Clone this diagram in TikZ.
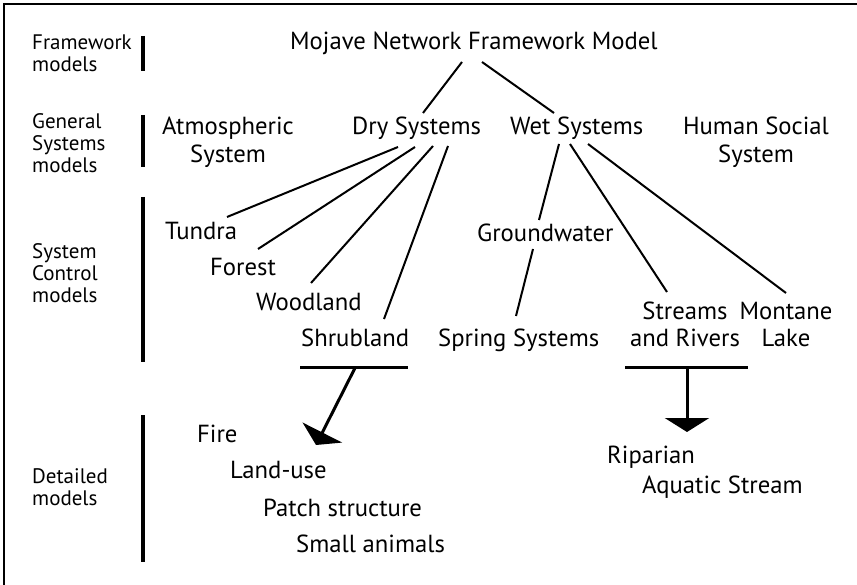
\documentclass[tikz,border=0pt]{standalone}
\usepackage{fontspec}
\setmainfont{PT Sans}
\usetikzlibrary{arrows.meta,calc}
\begin{document}
\begin{tikzpicture}[x=1pt,y=-1pt,
  lbl/.style={font=\fontsize{21}{22}\selectfont, align=left, anchor=base west, inner sep=0pt},
  item/.style={font=\fontsize{24.7}{28}\selectfont, inner sep=0pt, anchor=base west},
  multi/.style={font=\fontsize{24.7}{28}\selectfont, inner sep=0pt, align=center, anchor=base},
  link/.style={line width=2pt},
  tier/.style={line width=3.5pt},
  bar/.style={line width=3pt},
  fall/.style={line width=3pt, -{Triangle[width=44pt,length=14pt]}}]
\useasboundingbox (0,0) rectangle (857,585);
\fill[white] (0,0) rectangle (857,585);
% frame
\draw[line width=2pt] (4,585) -- (4,4) -- (857,4);

% level labels (anchored on their last line) and their bars
\node[lbl] (lfw)  at (32,72)  {Framework\\models};
\node[lbl] (lgen) at (32,173) {General\\Systems\\models};
\node[lbl] (lsys) at (32,303) {System\\Control\\models};
\node[lbl] (ldet) at (32,505) {Detailed\\models};
\draw[tier] (143,36)  -- (143,71);
\draw[tier] (143,115) -- (143,167);
\draw[tier] (143,197) -- (143,362);
\draw[tier] (143,415) -- (143,562);

% framework model
\node[item] (mojave) at (290,50) {Mojave Network Framework Model};

% general systems
\node[multi] (atmo)  at (228,163) {Atmospheric\\System};
\node[item]  (dry)   at (352,135) {Dry Systems};
\node[item]  (wet)   at (510,135) {Wet Systems};
\node[multi] (human) at (756,163) {Human Social\\System};

% system control models
\node[item] (tundra)  at (165,240) {Tundra};
\node[item] (forest)  at (210,276) {Forest};
\node[item] (wood)    at (256,311) {Woodland};
\node[item] (shrub)   at (301,347) {Shrubland};
\node[item] (ground)  at (477,242) {Groundwater};
\node[item] (spring)  at (438,347) {Spring Systems};
\node[multi] (stream) at (685,347) {Streams\\and Rivers};
\node[multi] (lake)   at (786,347) {Montane\\Lake};

% detailed models
\node[item] (fire)    at (197,442) {Fire};
\node[item] (landuse) at (230,478) {Land-use};
\node[item] (patch)   at (263,516) {Patch structure};
\node[item] (small)   at (296,552) {Small animals};
\node[item] (ripar)   at (607,463) {Riparian};
\node[item] (aqua)    at (642,493) {Aquatic Stream};

% hierarchy links
\draw[link] ($(mojave.base west)+(172,12)$) -- ($(dry.base west)+(71,-22)$);
\draw[link] ($(mojave.base west)+(192,12)$) -- ($(wet.base west)+(44,-22)$);
\draw[link] ($(dry.base west)+(46,12)$) -- ($(tundra.base west)+(62,-23)$);
\draw[link] ($(dry.base west)+(63,12)$) -- ($(forest.base west)+(48,-27)$);
\draw[link] ($(dry.base west)+(81,11)$) -- ($(wood.base west)+(55,-28)$);
\draw[link] ($(dry.base west)+(96,11)$) -- ($(shrub.base west)+(83,-28)$);
\draw[link] ($(wet.base west)+(49,9)$) -- ($(ground.base west)+(62,-22)$);
\draw[link] ($(ground.base west)+(56,7)$) -- ($(spring.base west)+(78,-31)$);
\draw[link] ($(wet.base west)+(60,9)$) -- ($(stream.base)+(-18,-55)$);
\draw[link] ($(wet.base west)+(78,9)$) -- ($(lake.base)+(0,-54)$);

% drops to the detailed models
\coordinate (shrubtip)  at (316,445);
\coordinate (streamtip) at (687,432);
\draw[bar] ($(shrub.base west)+(-1,21)$) -- ($(shrub.base west)+(107,21)$);
\draw[fall] ($(shrub.base west)+(54,21)$) -- (shrubtip);
\draw[bar] ($(stream.base)+(-60,21)$) -- ($(stream.base)+(63,21)$);
\draw[fall] ($(stream.base)+(2,21)$) -- (streamtip);
\end{tikzpicture}
\end{document}
